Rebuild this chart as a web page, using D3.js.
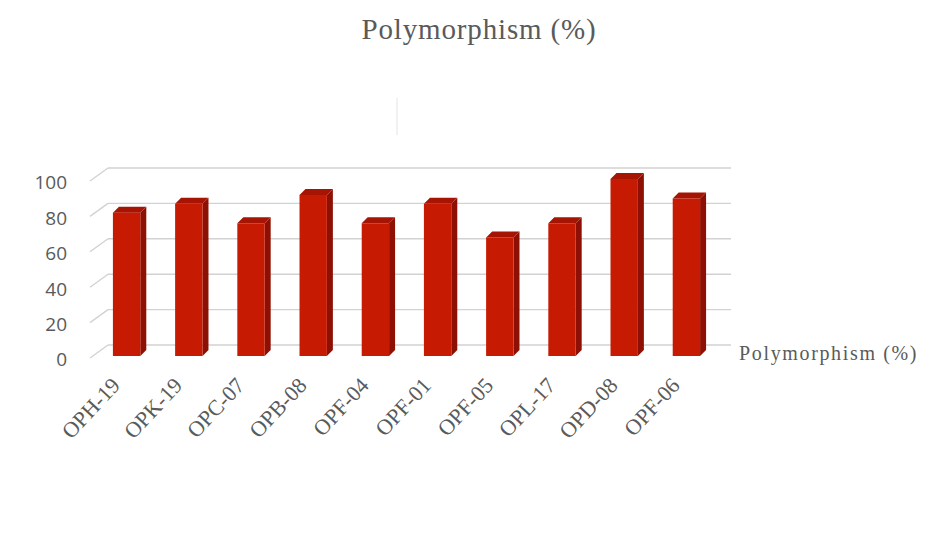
<!DOCTYPE html>
<html>
<head>
<meta charset="utf-8">
<script src="https://cdn.jsdelivr.net/npm/d3@7"></script>
<style>
html,body{margin:0;padding:0;background:#fff}
svg{display:block}
</style>
</head>
<body>
<svg id="chart" width="949" height="555"></svg>
<script>
const categories = ["OPH-19","OPK-19","OPC-07","OPB-08","OPF-04","OPF-01","OPF-05","OPL-17","OPD-08","OPF-06"];
const polymorphism = [81,86,75,91,75,86,67,75,100,89];
const yTicks = [0,20,40,60,80,100];
const seriesName = "Polymorphism (%)";

const svg = d3.select("#chart");
const serif = "'Liberation Serif', serif";
const textGrey = "#5a5a5a";

const x = d3.scaleBand().domain(categories).range([95.5,717.5]).paddingInner(0.56).paddingOuter(0.28);
const y = d3.scaleLinear().domain([0,100]).range([356,179]);

// Offset between the front plane of the bars and the rear wall
const wallDy = -11;
const depthDx = 6, depthDy = -6;

svg.append("text").attr("x",479).attr("y",39)
  .attr("text-anchor","middle").attr("font-family",serif).attr("font-size",29)
  .attr("letter-spacing",0.85).attr("fill",textGrey).text(seriesName);

// Thin divider above the plot
svg.append("line").attr("x1",397).attr("x2",397).attr("y1",98).attr("y2",135)
  .attr("stroke","#e4e4e4").attr("stroke-width",1);

// Rear wall gridlines and the floor/side wall diagonals
const grid = svg.append("g").attr("stroke","#d2d2d2").attr("stroke-width",1.4).attr("fill","none");
grid.selectAll("line.wall").data(yTicks).join("line").attr("class","wall")
  .attr("x1",108).attr("x2",731)
  .attr("y1",d=>y(d)+wallDy).attr("y2",d=>y(d)+wallDy);
grid.selectAll("line.side").data(yTicks).join("line").attr("class","side")
  .attr("x1",90).attr("x2",108)
  .attr("y1",d=>y(d)+wallDy+13).attr("y2",d=>y(d)+wallDy);

// Value axis
const yAxis = svg.append("g").attr("transform","translate(67,0)")
  .call(d3.axisLeft(y).tickValues(yTicks).tickSize(0).tickPadding(0));
yAxis.select(".domain").remove();
yAxis.selectAll("text").attr("font-family","'Open Sans', sans-serif").attr("font-size",19)
  .attr("fill",textGrey).attr("dy","0.42em");
yAxis.selectAll(".tick").attr("transform",d=>`translate(0,${y(d)+2.5})`);

// Bars: front face, right side and top
const bars = svg.append("g").selectAll("g").data(categories.map((c,i)=>({c,v:polymorphism[i]}))).join("g");
const pts = a => a.map(p=>p.join(",")).join(" ");
bars.append("polygon").attr("fill","#8e1004").attr("points",d=>{
  const r=x(d.c)+x.bandwidth(), t=y(d.v), b=y(0);
  return pts([[r,t],[r+depthDx,t+depthDy],[r+depthDx,b+depthDy],[r,b]]);
});
bars.append("polygon").attr("fill","#a61503").attr("points",d=>{
  const l=x(d.c), r=l+x.bandwidth(), t=y(d.v);
  return pts([[l,t],[l+depthDx,t+depthDy],[r+depthDx,t+depthDy],[r,t]]);
});
bars.append("rect").attr("fill","#c71a02")
  .attr("x",d=>x(d.c)).attr("width",x.bandwidth())
  .attr("y",d=>y(d.v)).attr("height",d=>y(0)-y(d.v));

// Category labels rotated along the axis
const xAxis = svg.append("g");
xAxis.selectAll("text").data(categories).join("text")
  .attr("transform",d=>`translate(${x(d)+x.bandwidth()/2-9},${383}) rotate(-47)`)
  .attr("text-anchor","end").attr("dominant-baseline","middle")
  .attr("font-family",serif).attr("font-size",22).attr("fill",textGrey).text(d=>d);

// Series legend
svg.append("text").attr("x",739).attr("y",360)
  .attr("font-family",serif).attr("font-size",20).attr("letter-spacing",1.65)
  .attr("fill",textGrey).text(seriesName);
</script>
</body>
</html>
